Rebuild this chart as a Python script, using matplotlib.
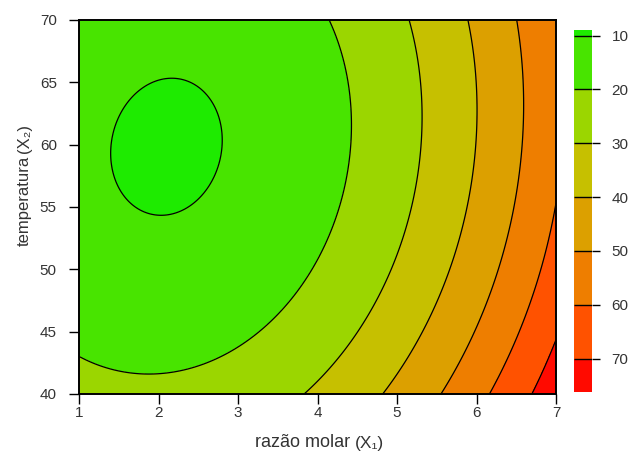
import matplotlib
matplotlib.use("Agg")
import matplotlib.pyplot as plt
import numpy as np

plt.rcParams["font.family"] = ["Liberation Sans", "DejaVu Sans"]

# second-order response surface, canonical form around the stationary point
x_center = 2.10
y_center = 59.83
z_min = 9.0
coef_xx = 2.05
coef_yy = 0.0334
coef_xy = -0.05

x_range = (1, 7)
y_range = (40, 70)
inner_levels = [10, 20, 30, 40, 50, 60, 70]
band_colors = ["#1eeb00", "#48e400", "#9bd600", "#c6c000", "#dca000",
               "#ee7e00", "#ff5200", "#ff0a00"]
x_ticks = [1, 2, 3, 4, 5, 6, 7]
y_ticks = [40, 45, 50, 55, 60, 65, 70]

text_color = "#333333"

x = np.linspace(*x_range, 401)
y = np.linspace(*y_range, 401)
X, Y = np.meshgrid(x, y)
U, V = X - x_center, Y - y_center
Z = z_min + coef_xx * U**2 + coef_yy * V**2 + coef_xy * U * V

levels = [Z.min()] + inner_levels + [Z.max()]

fig = plt.figure(figsize=(6.34, 4.54), dpi=100)
ax = fig.add_axes([0.1246, 0.1322, 0.7524, 0.8238])
ax.contourf(X, Y, Z, levels=levels, colors=band_colors)
ax.contour(X, Y, Z, levels=inner_levels, colors="black", linewidths=0.9)

ax.set_xlim(*x_range)
ax.set_ylim(*y_range)
ax.set_xticks(x_ticks)
ax.set_yticks(y_ticks)
ax.tick_params(direction="out", length=7, width=1, labelsize=11,
               labelcolor=text_color)
ax.tick_params(axis="x", pad=2)
ax.tick_params(axis="y", pad=9)
for spine in ax.spines.values():
    spine.set_linewidth(1.4)

# axis titles, with the variable code in a smaller size
xl = ax.text(0.568, -0.108, "razão molar", transform=ax.transAxes,
             ha="right", va="top", fontsize=13, color=text_color)
ax.annotate("(X\u2081)", xy=(1, 0), xycoords=xl, xytext=(3.5, 0),
            textcoords="offset points", ha="left", va="bottom",
            fontsize=12.5, color=text_color)
yl = ax.text(-0.115, 0.396, "temperatura", transform=ax.transAxes,
             rotation=90, ha="center", va="bottom", fontsize=12,
             color=text_color)
ax.annotate("(X\u2082)", xy=(1, 1), xycoords=yl, xytext=(0, 2),
            textcoords="offset points", ha="right", va="bottom",
            rotation=90, fontsize=12, color=text_color)

# colour key on the right
cax = fig.add_axes([0.9054, 0.1366, 0.0284, 0.797])
for lo, hi, c in zip(levels[:-1], levels[1:], band_colors):
    cax.axhspan(lo, hi, color=c, lw=0)
cax.hlines(inner_levels, 0, 1, colors="black", linewidth=1)
cax.set_xlim(0, 1)
cax.set_ylim(levels[-1], levels[0])
cax.set_xticks([])
cax.set_yticks(inner_levels)
cax.yaxis.tick_right()
cax.tick_params(axis="y", direction="out", length=6, width=1,
                labelsize=11, labelcolor=text_color, pad=8)
for spine in cax.spines.values():
    spine.set_visible(False)

fig.savefig("out.png", dpi=100)
